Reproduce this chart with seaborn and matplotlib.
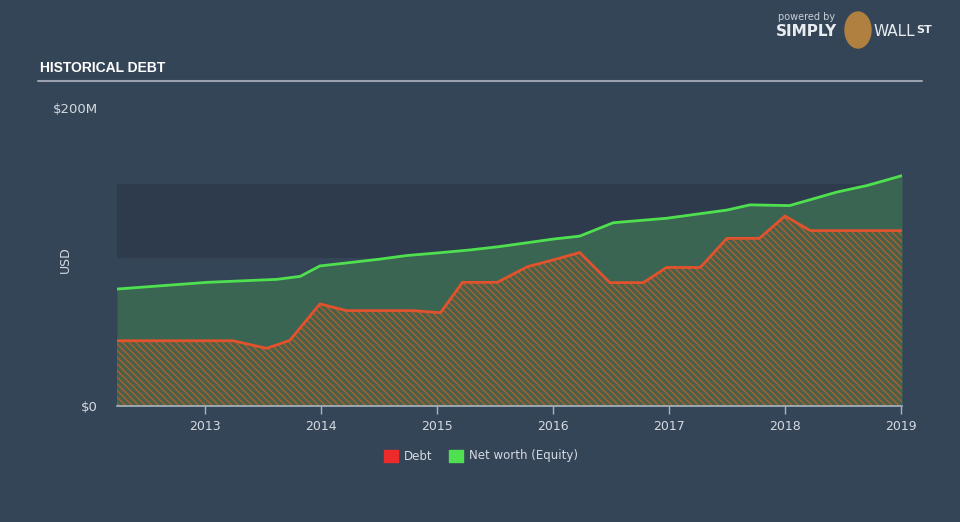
import matplotlib
matplotlib.use("Agg")
import matplotlib.pyplot as plt
import seaborn as sns
import pandas as pd
import numpy as np

# ---- data (USD millions, x in fractional years) ----
equity_t = [2012.24, 2013.02, 2013.62, 2013.82, 2013.99, 2014.22, 2014.51, 2014.74,
            2015.00, 2015.28, 2015.54, 2016.00, 2016.23, 2016.52, 2016.98, 2017.50,
            2017.70, 2018.04, 2018.45, 2018.71, 2019.01]
equity_v = [78.5, 83, 85, 87, 94, 96, 98.6, 101, 102.7, 104.7, 107, 112, 114, 123,
            126, 131.5, 135, 134.5, 143.6, 148, 154.6]

debt_t = [2012.24, 2013.24, 2013.53, 2013.73, 2013.99, 2014.22, 2014.79, 2015.03,
          2015.22, 2015.52, 2015.78, 2016.00, 2016.23, 2016.49, 2016.78, 2016.98,
          2017.27, 2017.50, 2017.78, 2018.00, 2018.22, 2019.01]
debt_v = [43.8, 43.8, 38.7, 44, 68.5, 64, 64, 62.6, 83, 83, 93.5, 98, 103, 82.8,
          82.8, 93, 93, 112.5, 112.5, 127.5, 117.7, 117.7]

year_ticks = [2013, 2014, 2015, 2016, 2017, 2018, 2019]
y_ticks = [0, 200]
y_tick_labels = ["$0", "$200M"]

eq_df = pd.DataFrame({"t": equity_t, "v": equity_v})
debt_df = pd.DataFrame({"t": debt_t, "v": debt_v})

BG = "#354558"
TXT = "#d5dae0"

sns.set_theme(style="dark")
plt.rcParams["hatch.linewidth"] = 0.9
plt.rcParams["hatch.color"] = "#b0602f"
plt.rcParams["font.family"] = ["DejaVu Sans"]

fig = plt.figure(figsize=(9.6, 5.22), dpi=100, facecolor=BG)
ax = fig.add_axes([117 / 960, 1 - 406 / 522, (902 - 117) / 960, (406 - 108) / 522])
ax.set_facecolor(BG)

# darker band
ax.axhspan(99.5, 149, color="#2e3b4c", zorder=0, lw=0)

# equity fill
ax.fill_between(eq_df["t"], 0, eq_df["v"], color="#3a6552", lw=0, zorder=1)
# debt hatched fill
ax.fill_between(debt_df["t"], 0, debt_df["v"], facecolor="#4a6048", edgecolor="#b0602f",
                hatch="\\\\\\\\\\", lw=0, zorder=2)

sns.lineplot(data=eq_df, x="t", y="v", ax=ax, color="#4fe04f", lw=2, zorder=4)
sns.lineplot(data=debt_df, x="t", y="v", ax=ax, color="#e2522c", lw=2, zorder=3)

ax.set_xlim(2012.24, 2019.01)
ax.set_ylim(0, 200)
ax.set_xticks(year_ticks)
ax.set_xticklabels([str(y) for y in year_ticks], color=TXT, fontsize=9)
ax.set_yticks(y_ticks)
ax.set_yticklabels(y_tick_labels, color=TXT, fontsize=9.5)
ax.tick_params(axis="x", length=6, width=1, color="#aab4c0", pad=4, bottom=True)
ax.tick_params(axis="y", length=0, pad=14)
ax.set_xlabel("")
ax.set_ylabel("")
for s in ["top", "right", "left"]:
    ax.spines[s].set_visible(False)
ax.spines["bottom"].set_color("#aab4c0")
ax.spines["bottom"].set_linewidth(1.2)
ax.grid(False)

fig.text(65 / 960, 1 - 260 / 522, "USD", color=TXT, fontsize=9, rotation=90,
         va="center", ha="center")

# title and rule
fig.text(40 / 960, 1 - 68 / 522, "HISTORICAL DEBT", color="white", fontsize=10,
         fontweight="bold", va="center", ha="left",
         family=["Liberation Sans", "DejaVu Sans"])
fig.add_artist(plt.Line2D([38 / 960, 922 / 960], [1 - 81 / 522, 1 - 81 / 522],
                          color="#9aa3ad", lw=1.5))

# logo text
fig.text(778 / 960, 1 - 17 / 522, "powered by", color="#c8ced5", fontsize=7, va="center")
fig.text(776 / 960, 1 - 32 / 522, "SIMPLY", color="#e8ecef", fontsize=11, fontweight="bold", va="center")
fig.text(874 / 960, 1 - 32 / 522, "WALL", color="#e8ecef", fontsize=11, va="center")
fig.text(916 / 960, 1 - 30 / 522, "ST", color="#e8ecef", fontsize=8, fontweight="bold", va="center")
fig.patches.append(matplotlib.patches.Ellipse((858 / 960, 1 - 30 / 522), 26 / 960, 36 / 522,
                                              transform=fig.transFigure, color="#b08040", zorder=3))

# legend
fig.patches.append(matplotlib.patches.Rectangle((384 / 960, 1 - 462 / 522), 14 / 960, 12 / 522,
                                                transform=fig.transFigure, color="#ee2b2b"))
fig.text(404 / 960, 1 - 456 / 522, "Debt", color=TXT, fontsize=8.5, va="center")
fig.patches.append(matplotlib.patches.Rectangle((449 / 960, 1 - 462 / 522), 14 / 960, 12 / 522,
                                                transform=fig.transFigure, color="#4fe04f"))
fig.text(469 / 960, 1 - 456 / 522, "Net worth (Equity)", color=TXT, fontsize=8.5, va="center")

fig.savefig("out.png", dpi=100, facecolor=BG)
